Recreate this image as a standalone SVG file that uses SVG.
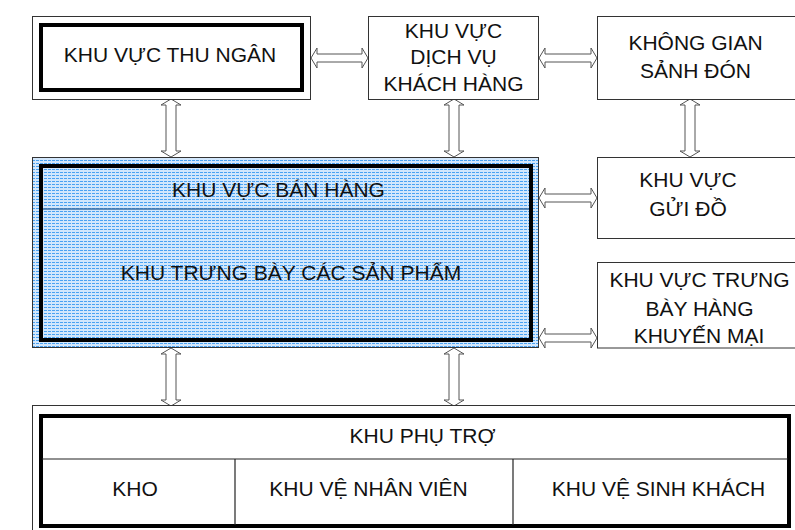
<svg xmlns="http://www.w3.org/2000/svg" width="795" height="530" viewBox="0 0 795 530">
<style>
.box{fill:#fff;stroke:#333;stroke-width:1}
.thick{fill:none;stroke:#000;stroke-width:4}
.t{font-family:"Liberation Sans",Arial,sans-serif;font-size:21px;fill:#111;text-anchor:middle}
.arr{fill:#fff;stroke:#555;stroke-width:1}
.ln{stroke:#222;stroke-width:1.2}
</style>
<defs>
<pattern id="dots" width="4" height="3" patternUnits="userSpaceOnUse">
<rect width="4" height="3" fill="#d2e7fc"/>
<rect x="0" y="1" width="3" height="1" fill="#4aa2f2"/>
</pattern>
</defs>
<g id="connectors">
<polygon class="arr" points="311,58 317,48 317,54 362,54 362,48 368,58 362,68 362,62 317,62 317,68"/>
<polygon class="arr" points="539,58 545,48 545,54 591,54 591,48 597,58 591,68 591,62 545,62 545,68"/>
<polygon class="arr" points="539,198 545,188 545,194 591,194 591,188 597,198 591,208 591,202 545,202 545,208"/>
<polygon class="arr" points="539,338 545,328 545,334 591,334 591,328 597,338 591,348 591,342 545,342 545,348"/>
<polygon class="arr" points="171,99 181,105 176,105 176,151 181,151 171,157 161,151 166,151 166,105 161,105"/>
<polygon class="arr" points="454,99 464,105 459,105 459,151 464,151 454,157 444,151 449,151 449,105 444,105"/>
<polygon class="arr" points="690,99 700,105 695,105 695,151 700,151 690,157 680,151 685,151 685,105 680,105"/>
<polygon class="arr" points="171,348 181,354 176,354 176,400 181,400 171,406 161,400 166,400 166,354 161,354"/>
<polygon class="arr" points="454,348 464,354 459,354 459,400 464,400 454,406 444,400 449,400 449,354 444,354"/>
</g>
<g id="thu-ngan">
<rect class="box" x="32.5" y="16.5" width="278" height="83"/>
<rect class="thick" x="41" y="25" width="261" height="65"/>
<text class="t" x="170" y="62">KHU VỰC THU NGÂN</text>
</g>
<g id="dich-vu">
<rect class="box" x="368.5" y="16.5" width="170" height="83"/>
<text class="t" x="453.5" y="38">KHU VỰC</text>
<text class="t" x="453.5" y="64">DỊCH VỤ</text>
<text class="t" x="453.5" y="91">KHÁCH HÀNG</text>
</g>
<g id="khong-gian">
<rect class="box" x="597.5" y="16.5" width="210" height="83"/>
<text class="t" x="695.5" y="50">KHÔNG GIAN</text>
<text class="t" x="695.5" y="78">SẢNH ĐÓN</text>
</g>
<g id="ban-hang">
<rect x="32.5" y="157.5" width="506" height="190" fill="url(#dots)" stroke="#333" stroke-width="1"/>
<line x1="42" y1="209" x2="530" y2="209" stroke="#3a6ea5" stroke-width="1.5"/>
<rect class="thick" x="41" y="166" width="490" height="174"/>
<text class="t" x="278.5" y="197">KHU VỰC BÁN HÀNG</text>
<text class="t" x="291" y="280">KHU TRƯNG BÀY CÁC SẢN PHẨM</text>
</g>
<g id="gui-do">
<rect class="box" x="597.5" y="157.5" width="210" height="81"/>
<text class="t" x="688" y="187">KHU VỰC</text>
<text class="t" x="688" y="216">GỬI ĐỒ</text>
</g>
<g id="khuyen-mai">
<rect class="box" x="597.5" y="262.5" width="210" height="85.5"/>
<text class="t" x="699.5" y="287">KHU VỰC TRƯNG</text>
<text class="t" x="699.5" y="316">BÀY HÀNG</text>
<text class="t" x="699" y="343">KHUYẾN MẠI</text>
</g>
<g id="phu-tro">
<rect class="box" x="32.5" y="405.5" width="780" height="140"/>
<rect class="thick" x="41" y="416" width="748" height="110"/>
<line class="ln" x1="42" y1="459" x2="788" y2="459"/>
<line class="ln" x1="235" y1="459" x2="235" y2="525"/>
<line class="ln" x1="513" y1="459" x2="513" y2="525"/>
<text class="t" x="422.5" y="443">KHU PHỤ TRỢ</text>
<text class="t" x="135" y="496">KHO</text>
<text class="t" x="368.5" y="496">KHU VỆ NHÂN VIÊN</text>
<text class="t" x="658.5" y="496">KHU VỆ SINH KHÁCH</text>
</g>
</svg>
